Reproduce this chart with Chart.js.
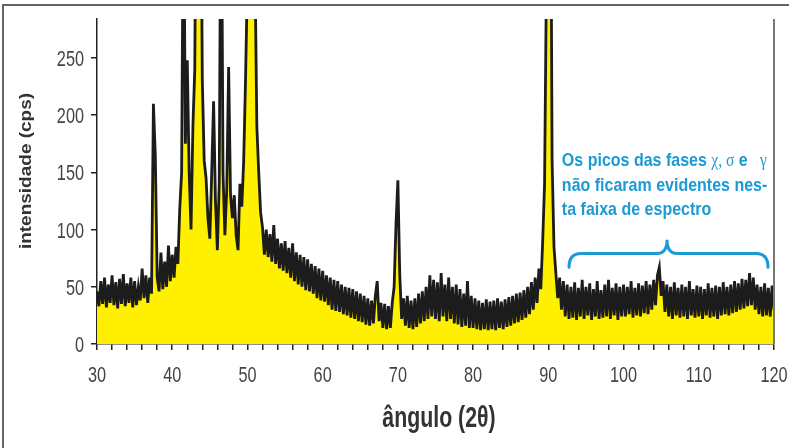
<!DOCTYPE html>
<html>
<head>
<meta charset="utf-8">
<script src="https://cdn.jsdelivr.net/npm/chart.js"></script>
<style>
  html, body { margin: 0; padding: 0; background: #fff; }
  #wrap { width: 789px; height: 448px; }
</style>
</head>
<body>
<div id="wrap"><canvas id="xrd" width="789" height="448"></canvas></div>
<script>
// Espectro de difração: intensidade (cps) lida a cada 0,25 grau, em blocos de 10 graus
const STEP = 0.25;
const seg30 = [46, 33, 55, 35, 58, 32, 52, 36, 60, 34, 54, 31, 57, 35, 61, 33, 53, 36, 58, 32,
               55, 34, 50, 38, 66, 40, 60, 36, 58, 44, 210, 165, 58, 46, 80, 48, 72, 50, 86, 55];
const seg40 = [78, 58, 85, 70, 118, 150, 420, 175, 248, 150, 100, 190, 240, 500, 640, 480, 230, 160, 145, 110,
               92, 150, 212, 125, 82, 140, 460, 150, 95, 135, 242, 130, 110, 130, 95, 82, 140, 120, 160, 232];
const seg50 = [320, 650, 720, 600, 330, 190, 150, 115, 102, 78, 100, 76, 96, 72, 104, 70, 92, 66, 88, 64,
               90, 62, 84, 58, 88, 55, 80, 52, 78, 50, 76, 47, 74, 46, 70, 44, 68, 40, 66, 38];
const seg60 = [64, 37, 60, 34, 58, 30, 56, 29, 55, 28, 52, 26, 50, 25, 49, 23, 48, 22, 46, 20,
               44, 19, 42, 17, 40, 16, 38, 18, 42, 55, 20, 36, 14, 35, 13, 33, 14, 36, 50, 105];
const seg70 = [143, 60, 22, 40, 16, 42, 14, 38, 13, 40, 15, 44, 18, 46, 20, 50, 22, 60, 24, 56,
               22, 54, 20, 62, 24, 52, 20, 58, 22, 50, 18, 52, 17, 48, 15, 44, 16, 55, 14, 42];
const seg80 = [14, 40, 13, 38, 12, 36, 13, 39, 12, 37, 13, 38, 12, 40, 14, 37, 13, 39, 15, 41,
               16, 42, 18, 44, 19, 45, 21, 47, 23, 50, 26, 54, 30, 58, 36, 66, 48, 90, 140, 320];
const seg90 = [720, 520, 160, 85, 62, 40, 58, 30, 55, 24, 52, 22, 50, 23, 54, 21, 49, 24, 56, 22,
               50, 25, 53, 21, 48, 24, 55, 22, 47, 23, 52, 24, 56, 22, 49, 25, 53, 21, 50, 24];
const seg100 = [52, 24, 50, 26, 55, 23, 49, 25, 53, 24, 51, 27, 55, 26, 52, 30, 56, 34, 60, 67,
                42, 55, 28, 52, 24, 50, 22, 54, 25, 49, 23, 52, 24, 50, 22, 55, 25, 48, 23, 51];
const seg110 = [24, 50, 22, 48, 25, 53, 23, 49, 24, 51, 22, 50, 25, 54, 26, 50, 25, 52, 27, 55,
                28, 53, 30, 57, 31, 56, 33, 62, 34, 58, 30, 52, 26, 50, 24, 53, 25, 49, 24, 51, 30];

const segments = [
  { start: 30, values: seg30 }, { start: 40, values: seg40 }, { start: 50, values: seg50 },
  { start: 60, values: seg60 }, { start: 70, values: seg70 }, { start: 80, values: seg80 },
  { start: 90, values: seg90 }, { start: 100, values: seg100 }, { start: 110, values: seg110 }
];

// Marcas dos eixos
const xLabels = [30, 40, 50, 60, 70, 80, 90, 100, 110, 120];
const yTicks = [0, 50, 100, 150, 200, 250];
const xMinorStep = 2;

const annotationLines = ['não ficaram evidentes nes-', 'ta faixa de espectro'];

// Monta os pontos {x, y}
const points = [];
segments.forEach(seg => {
  seg.values.forEach((v, i) => points.push({ x: seg.start + i * STEP, y: v }));
});

const xTickValues = [];
for (let v = xLabels[0]; v <= xLabels[xLabels.length - 1]; v += xMinorStep) xTickValues.push(v);

const blue = '#1b9ad6';
const squeeze = 0.74; // a figura original está comprimida na horizontal

// texto comprimido na horizontal
function narrowText(ctx, text, x, y, sx) {
  ctx.save();
  ctx.translate(x, y);
  ctx.scale(sx, 1);
  ctx.fillText(text, 0, 0);
  ctx.restore();
}

// Moldura, rótulos, títulos dos eixos e a anotação em azul
const extras = {
  id: 'extras',
  beforeDraw(chart) {
    const ctx = chart.ctx;
    ctx.save();
    ctx.fillStyle = '#fff';
    ctx.fillRect(0, 0, chart.width, chart.height);
    ctx.strokeStyle = '#666';
    ctx.lineWidth = 2;
    ctx.beginPath();
    ctx.moveTo(3, chart.height);
    ctx.lineTo(3, 5);
    ctx.lineTo(chart.width, 5);
    ctx.stroke();
    ctx.restore();
  },
  afterDraw(chart) {
    const { ctx, chartArea: a, scales: { x, y } } = chart;
    ctx.save();

    // borda direita da área do gráfico
    ctx.strokeStyle = '#777';
    ctx.lineWidth = 2;
    ctx.beginPath();
    ctx.moveTo(a.right, a.top);
    ctx.lineTo(a.right, a.bottom);
    ctx.stroke();

    // rótulos das marcas
    ctx.fillStyle = '#444';
    ctx.font = '22px "Liberation Sans", Arial, sans-serif';
    ctx.textBaseline = 'alphabetic';
    ctx.textAlign = 'center';
    xLabels.forEach(v => narrowText(ctx, String(v), x.getPixelForValue(v), a.bottom + 38, squeeze));
    ctx.textAlign = 'right';
    yTicks.forEach(v => narrowText(ctx, String(v), a.left - 13, y.getPixelForValue(v) + 8, squeeze));

    // títulos
    ctx.fillStyle = '#333';
    ctx.textAlign = 'center';
    ctx.font = 'bold 30px "Liberation Sans", Arial, sans-serif';
    narrowText(ctx, 'ângulo (2θ)', 439, 427, 0.71);

    ctx.save();
    ctx.translate(31, 171);
    ctx.rotate(-Math.PI / 2);
    ctx.scale(1, 0.85);
    ctx.font = 'bold 19px "Liberation Sans", Arial, sans-serif';
    ctx.fillText('intensidade (cps)', 0, 0);
    ctx.restore();

    // texto da anotação
    const sans = 'bold 18.5px "Liberation Sans", Arial, sans-serif';
    const serif = '18px "Liberation Serif", "DejaVu Serif", serif';
    const tx = x.getPixelForValue(91.8);
    ctx.fillStyle = blue;
    ctx.textAlign = 'left';
    ctx.save();
    ctx.translate(tx, 0);
    ctx.scale(0.865, 1);
    let cx = 0;
    [['Os picos das fases ', sans], ['χ, σ', serif], [' e ', sans], ['  γ', serif]].forEach(([t, f]) => {
      ctx.font = f;
      ctx.fillText(t, cx, 166);
      cx += ctx.measureText(t).width;
    });
    ctx.font = sans;
    annotationLines.forEach((t, i) => ctx.fillText(t, 0, 191 + i * 24));
    ctx.restore();

    // chave
    const L = x.getPixelForValue(92.75), R = x.getPixelForValue(119.2), T = x.getPixelForValue(105.78);
    const yEnd = y.getPixelForValue(67), yFlat = y.getPixelForValue(79), yTip = y.getPixelForValue(91);
    ctx.strokeStyle = blue;
    ctx.lineWidth = 3;
    ctx.lineCap = 'round';
    ctx.beginPath();
    ctx.moveTo(L, yEnd);
    ctx.quadraticCurveTo(L, yFlat, L + 12, yFlat);
    ctx.lineTo(T - 10, yFlat);
    ctx.quadraticCurveTo(T, yFlat, T, yTip);
    ctx.quadraticCurveTo(T, yFlat, T + 10, yFlat);
    ctx.lineTo(R - 12, yFlat);
    ctx.quadraticCurveTo(R, yFlat, R, yEnd);
    ctx.stroke();

    ctx.restore();
  }
};

new Chart(document.getElementById('xrd'), {
  type: 'line',
  data: {
    datasets: [{
      data: points,
      fill: 'origin',
      backgroundColor: '#fff000',
      borderColor: '#1c1c1c',
      borderWidth: 2.8,
      pointRadius: 0,
      tension: 0
    }]
  },
  options: {
    responsive: false,
    animation: false,
    layout: { padding: { top: 19, right: 15, left: 0, bottom: 0 } },
    plugins: { legend: { display: false }, tooltip: { enabled: false } },
    scales: {
      x: {
        type: 'linear',
        min: 30,
        max: 120,
        afterBuildTicks: s => { s.ticks = xTickValues.map(v => ({ value: v })); },
        afterFit: s => { s.height = 104; },
        ticks: { display: false },
        grid: { drawOnChartArea: false, drawTicks: true, tickLength: 6, color: '#222', lineWidth: 1.5 },
        border: { color: '#222', width: 1.5 }
      },
      y: {
        min: 0,
        max: 284,
        afterBuildTicks: s => { s.ticks = yTicks.map(v => ({ value: v })); },
        afterFit: s => { s.width = 97; },
        ticks: { display: false },
        grid: { drawOnChartArea: false, drawTicks: true, tickLength: 6, color: '#222', lineWidth: 1.5 },
        border: { color: '#222', width: 1.5 }
      }
    }
  },
  plugins: [extras]
});
</script>
</body>
</html>
